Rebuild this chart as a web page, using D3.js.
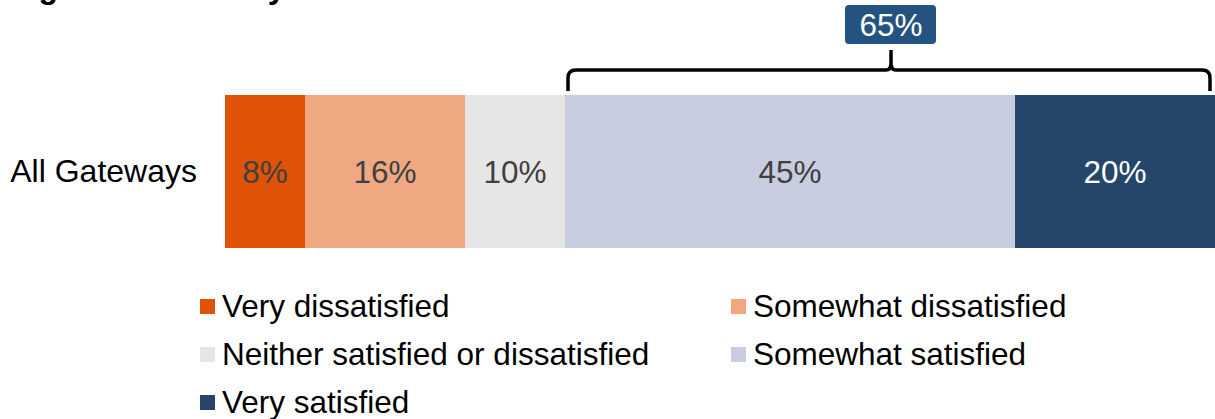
<!DOCTYPE html>
<html>
<head>
<meta charset="utf-8">
<script src="https://cdn.jsdelivr.net/npm/d3@7"></script>
<style>
  html, body { margin: 0; padding: 0; background: #fff; }
  svg { display: block; font-family: Arial, "Liberation Sans", sans-serif; }
</style>
</head>
<body>
<svg id="chart" width="1215" height="419"></svg>
<script>
// Survey responses, one stacked bar
const categories = ["All Gateways"];
const seriesNames = [
  "Very dissatisfied",
  "Somewhat dissatisfied",
  "Neither satisfied or dissatisfied",
  "Somewhat satisfied",
  "Very satisfied"
];
const seriesValues = [8, 16, 10, 45, 20];
const seriesColors = ["#E05206", "#F0A882", "#E6E6E6", "#C8CDE0", "#26456B"];
const labelColors = ["#404040", "#404040", "#404040", "#404040", "#FFFFFF"];
const satisfiedSeries = ["Somewhat satisfied", "Very satisfied"];
const titleText = "Figure 1: Gateway satisfaction with the service";

const svg = d3.select("#chart");
const fontSize = 31.5;

// Title (sits at the very top of the canvas)
svg.append("text")
  .attr("x", 10).attr("y", -2)
  .attr("font-size", 32).attr("font-weight", "bold")
  .attr("fill", "#000")
  .text(titleText);

// Scales
const x = d3.scaleLinear().domain([0, 100]).range([225, 1225]);
const y = d3.scaleBand().domain(categories).range([95, 248]).padding(0);

// Stack the segments
const row = { category: categories[0] };
seriesNames.forEach((s, i) => row[s] = seriesValues[i]);
const stacked = d3.stack().keys(seriesNames)([row]);

const layers = svg.append("g").selectAll("g")
  .data(stacked).join("g")
  .attr("fill", (d, i) => seriesColors[i]);

layers.selectAll("rect")
  .data(d => d.map(p => ({ p, key: d.key })))
  .join("rect")
  .attr("x", d => x(d.p[0]))
  .attr("y", d => y(d.p.data.category))
  .attr("width", d => x(d.p[1]) - x(d.p[0]))
  .attr("height", y.bandwidth());

// Value labels centred in each segment
layers.each(function(d, i) {
  d3.select(this).selectAll("text.value")
    .data(d)
    .join("text")
    .attr("class", "value")
    .attr("x", p => (x(p[0]) + x(p[1])) / 2)
    .attr("y", p => y(p.data.category) + y.bandwidth() / 2)
    .attr("dy", "0.36em")
    .attr("text-anchor", "middle")
    .attr("font-size", fontSize)
    .attr("fill", labelColors[i])
    .text(p => (p[1] - p[0]) + "%");
});

// Category axis
const yAxis = svg.append("g")
  .attr("transform", `translate(${x(0)},0)`)
  .call(d3.axisLeft(y).tickSize(0).tickPadding(28));
yAxis.select(".domain").remove();
yAxis.selectAll("text")
  .attr("font-size", 32)
  .attr("font-family", "Arial, 'Liberation Sans', sans-serif")
  .attr("fill", "#000");

// Bracket over the satisfied segments
const satLayers = stacked.filter(l => satisfiedSeries.includes(l.key));
const satStart = d3.min(satLayers, l => l[0][0]);
const satEnd = d3.max(satLayers, l => l[0][1]);
const satTotal = d3.sum(satLayers, l => l[0][1] - l[0][0]);

const bx0 = x(satStart) + 3;
const bx1 = x(satEnd) - 5;
const bm = (bx0 + bx1) / 2 + 2;
const by = 70, byEnd = 91, byTip = 50, r = 8;
const bracket = d3.path();
bracket.moveTo(bx0, byEnd);
bracket.lineTo(bx0, by + r);
bracket.quadraticCurveTo(bx0, by, bx0 + r, by);
bracket.lineTo(bm - 5, by);
bracket.quadraticCurveTo(bm, by, bm, by - 7);
bracket.lineTo(bm, byTip);
bracket.moveTo(bm, by - 7);
bracket.quadraticCurveTo(bm, by, bm + 5, by);
bracket.lineTo(bx1 - r, by);
bracket.quadraticCurveTo(bx1, by, bx1, by + r);
bracket.lineTo(bx1, byEnd);
svg.append("path")
  .attr("d", bracket.toString())
  .attr("fill", "none")
  .attr("stroke", "#000")
  .attr("stroke-width", 3.5);

// Total badge
const badge = svg.append("g").attr("transform", `translate(${bm},0)`);
badge.append("rect")
  .attr("x", -46).attr("y", 5)
  .attr("width", 91).attr("height", 39)
  .attr("rx", 4).attr("ry", 4)
  .attr("fill", "#245381");
badge.append("text")
  .attr("x", 0).attr("y", 24.5)
  .attr("dy", "0.36em")
  .attr("text-anchor", "middle")
  .attr("font-size", fontSize)
  .attr("fill", "#fff")
  .text(satTotal + "%");

// Legend: two columns, filled left to right
const legendCols = [200, 731];
const legendRow0 = 305.5, legendStep = 48;
const legend = svg.append("g").selectAll("g")
  .data(seriesNames).join("g")
  .attr("transform", (d, i) =>
    `translate(${legendCols[i % 2]},${legendRow0 + Math.floor(i / 2) * legendStep})`);
legend.append("rect")
  .attr("x", 0).attr("y", -6.5)
  .attr("width", 15).attr("height", 15)
  .attr("fill", (d, i) => seriesColors[i]);
legend.append("text")
  .attr("x", 22).attr("y", 0)
  .attr("dy", "0.36em")
  .attr("font-size", fontSize)
  .attr("fill", "#000")
  .text(d => d);
</script>
</body>
</html>
